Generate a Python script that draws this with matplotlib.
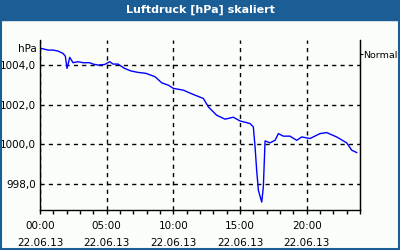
import numpy as np
import matplotlib.pyplot as plt
from matplotlib.ticker import MultipleLocator, FixedLocator

# Luftdruck-Verlauf 22.06.13 (Stunden, hPa)
stunden = [0.0, 0.6, 0.98, 1.35, 1.73, 1.9, 2.03, 2.23, 2.48, 2.85, 3.23, 3.73,
           3.98, 4.35, 4.85, 5.23, 5.48, 5.85, 6.35, 6.83, 7.35, 7.95, 8.63,
           9.13, 9.63, 10.0, 10.75, 11.5, 12.25, 12.63, 13.25, 13.88, 14.5,
           15.0, 15.75, 16.0, 16.13, 16.25, 16.38, 16.63, 16.75, 16.88, 17.25,
           17.63, 17.88, 18.25, 18.75, 19.25, 19.63, 20.25, 21.0, 21.5, 22.25,
           23.0, 23.38, 23.75]
druck = [1004.86, 1004.76, 1004.76, 1004.71, 1004.59, 1004.45, 1003.83, 1004.39,
         1004.12, 1004.17, 1004.12, 1004.12, 1004.05, 1004.0, 1004.03, 1004.17,
         1004.05, 1004.05, 1003.83, 1003.7, 1003.63, 1003.58, 1003.41, 1003.1,
         1002.98, 1002.82, 1002.73, 1002.51, 1002.31, 1001.88, 1001.46, 1001.26,
         1001.36, 1001.17, 1001.04, 1000.87, 999.85, 998.67, 997.65, 997.06,
         997.82, 1000.16, 1000.06, 1000.19, 1000.53, 1000.4, 1000.4, 1000.19,
         1000.36, 1000.28, 1000.53, 1000.58, 1000.36, 1000.06, 999.69, 999.57]

x_ticks = [0, 5, 10, 15, 20]
x_labels = ['00:00\n22.06.13', '05:00\n22.06.13', '10:00\n22.06.13',
            '15:00\n22.06.13', '20:00\n22.06.13']
y_ticks = [998, 1000, 1002, 1004]
y_labels = ['998,0', '1000,0', '1002,0', '1004,0']
normal = 1004.56

blau = '#1b5e95'
plt.rcParams['font.family'] = ['DejaVu Sans']
plt.rcParams['font.size'] = 7.5

fig = plt.figure(figsize=(4, 2.5), dpi=100, facecolor='#fbfdfb')
# Titelleiste und Rahmen
fig.patches.append(plt.Rectangle((0, 0.92), 1, 0.08, transform=fig.transFigure,
                                 color=blau, zorder=0))
fig.patches.append(plt.Rectangle((0.002, 0.003), 0.996, 0.994, transform=fig.transFigure,
                                 fill=False, edgecolor=blau, linewidth=1.5, zorder=0))
fig.text(0.5, 0.96, 'Luftdruck [hPa] skaliert', color='white', fontweight='bold',
         ha='center', va='center', fontsize=8)

ax = fig.add_axes([0.1, 0.16, 0.8, 0.68])
ax.set_facecolor('#fbfdfb')
ax.plot(stunden, druck, color='#0000ff', linewidth=1)
ax.set_xlim(0, 24)
ax.set_ylim(996.66, 1005.27)

ax.set_xticks(x_ticks)
ax.set_xticklabels(x_labels, linespacing=1.9)
ax.xaxis.set_minor_locator(MultipleLocator(1))
ax.set_yticks(y_ticks)
ax.set_yticklabels(y_labels)
ax.tick_params(axis='x', which='both', length=3, width=1, direction='out', pad=5)
ax.tick_params(axis='y', length=0, pad=3)
ax.grid(True, color='black', linestyle=(0, (3, 3)), linewidth=1)
ax.spines['top'].set_visible(False)
for s in ['left', 'bottom', 'right']:
    ax.spines[s].set_linewidth(1)

ax.text(-0.01, 1004.8, 'hPa', ha='right', va='center',
        transform=ax.get_yaxis_transform())

ax2 = ax.twinx()
ax2.set_ylim(ax.get_ylim())
ax2.yaxis.set_major_locator(FixedLocator([normal]))
ax2.set_yticklabels(['Normal'], fontsize=6.8)
ax2.tick_params(axis='y', length=2, pad=0.5)
for s in ['top', 'left', 'bottom']:
    ax2.spines[s].set_visible(False)

plt.savefig('out.png', dpi=100, facecolor=fig.get_facecolor())
